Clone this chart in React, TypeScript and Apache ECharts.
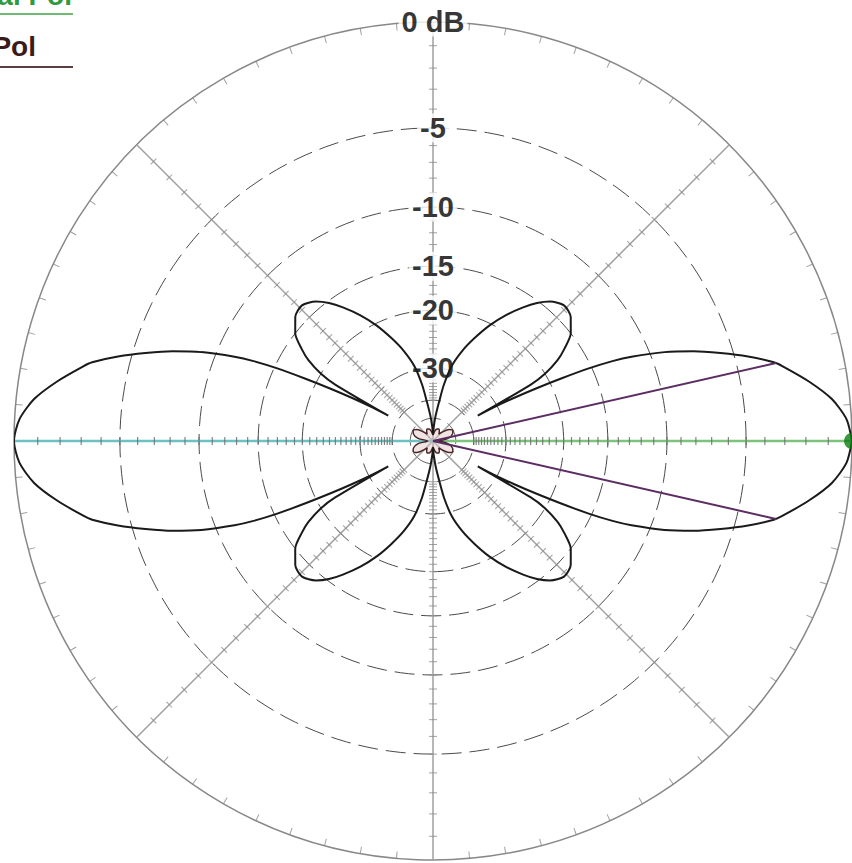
import React, { useEffect, useRef } from 'react';
import * as echarts from 'echarts';

// Main (black) pattern, one quadrant: angle from horizontal (deg) -> dB
const quadAngles = [0, 3, 6, 9, 12, 13, 15, 17, 19, 21, 23, 24, 25, 26, 27, 28, 29, 29.5, 30, 31, 33, 35, 38, 42, 46, 50, 53, 56, 60, 64, 68, 72, 76, 79, 81, 84, 87, 90];
const quadDb = [0, -0.2, -0.75, -1.65, -2.7, -3.1, -4.3, -5.7, -7.2, -9.0, -11.4, -13.0, -15.3, -18.5, -22, -26, -31, -36, -22.5, -20, -17.8, -16.5, -15, -14, -13.7, -14.3, -15.2, -16.4, -18.2, -20.3, -22.8, -25.5, -29, -34, -40, -48, -58, -70];

// Small (brown) pattern, one quadrant
const smallAngles = [0, 10, 20, 28, 36, 44, 50, 56, 64, 72, 80, 90];
const smallDb = [-75, -57, -51.5, -50.2, -52.5, -60, -66, -62, -59, -60, -64, -72];

// -3 dB beamwidth markers
const beamHalfAngle = 12.8;
const beamLevelDb = -3;

// Grid
const ringLevels = [-5, -10, -15, -20, -30, -40, -50];
const labelLevels = [0, -5, -10, -15, -20, -30];
const labelTexts = ['0 dB', '-5', '-10', '-15', '-20', '-30'];
const spokeAngles = [45, 90, 135, 225, 270, 315];
const tickDbs = Array.from({ length: 40 }, (_, i) => -(i + 1));
const rimTickAngles = Array.from({ length: 72 }, (_, i) => i * 5).filter((a) => a % 45 !== 0);

const arrl = (db: number) => Math.pow(0.89, -db / 2);

function mirror(angles: number[], dbs: number[]) {
  const out: number[][] = [];
  const n = angles.length;
  for (let i = 0; i < n; i++) out.push([arrl(dbs[i]), angles[i]]);
  for (let i = n - 2; i >= 0; i--) out.push([arrl(dbs[i]), 180 - angles[i]]);
  for (let i = 1; i < n; i++) out.push([arrl(dbs[i]), 180 + angles[i]]);
  for (let i = n - 2; i >= 0; i--) out.push([arrl(dbs[i]), 360 - angles[i]]);
  return out;
}

export default function App() {
  const ref = useRef<HTMLDivElement>(null);
  useEffect(() => {
    if (!ref.current) return;
    const chart = echarts.init(ref.current, undefined, { renderer: 'svg' });
    const series: any[] = [];

    // rings
    ringLevels.forEach((lv) => {
      const d: number[][] = [];
      for (let a = 0; a <= 360; a += 2) d.push([arrl(lv), a]);
      series.push({
        type: 'line', coordinateSystem: 'polar', data: d, symbol: 'none', silent: true, z: 1,
        lineStyle: { color: '#4a4a4a', width: 1, type: [20, 8] },
      });
    });
    // spokes
    spokeAngles.forEach((a) => {
      series.push({
        type: 'line', coordinateSystem: 'polar', data: [[0, a], [1, a]], symbol: 'none', silent: true, z: 1,
        lineStyle: { color: '#a0a0a0', width: 1.5 },
      });
    });
    series.push({
      type: 'line', coordinateSystem: 'polar', data: [[0, 0], [1, 0]], symbol: 'none', z: 2,
      lineStyle: { color: '#7cc47c', width: 2.5 },
    });
    series.push({
      type: 'line', coordinateSystem: 'polar', data: [[0, 180], [1, 180]], symbol: 'none', z: 2,
      lineStyle: { color: '#6cc2c2', width: 2.5 },
    });
    // spoke ticks
    const spokeTicks: any[] = [];
    spokeAngles.forEach((a) => tickDbs.forEach((db) => spokeTicks.push({ value: [arrl(db), a], symbolRotate: a })));
    series.push({
      type: 'scatter', coordinateSystem: 'polar', data: spokeTicks, symbol: 'rect', symbolSize: [1, 8], z: 2,
      itemStyle: { color: '#8a8a8a' }, silent: true,
    });
    const axisTicks: any[] = [];
    [0, 180].forEach((a) => tickDbs.forEach((db) => axisTicks.push({ value: [arrl(db), a], symbolRotate: a })));
    series.push({
      type: 'scatter', coordinateSystem: 'polar', data: axisTicks, symbol: 'rect', symbolSize: [1.2, 8], z: 3,
      itemStyle: { color: '#666' }, silent: true,
    });
    // rim ticks
    series.push({
      type: 'scatter', coordinateSystem: 'polar', symbol: 'rect', symbolSize: [1, 7], z: 2, silent: true,
      itemStyle: { color: '#888' },
      data: rimTickAngles.map((a) => ({ value: [1 - 3.5 / 419, a], symbolRotate: a - 90 })),
    });
    // labels
    series.push({
      type: 'scatter', coordinateSystem: 'polar', symbolSize: 1, z: 5, silent: true,
      itemStyle: { color: 'rgba(0,0,0,0)' },
      data: labelLevels.map((lv, i) => ({ value: [arrl(lv), 90], name: labelTexts[i] })),
      label: {
        show: true, position: 'inside', formatter: (p: any) => p.name,
        fontSize: 29, fontWeight: 'bold', fontFamily: '"Liberation Sans", Arial, sans-serif', color: '#000',
        backgroundColor: '#fff', padding: [0, 3],
      },
    });
    // small pattern
    series.push({
      type: 'line', coordinateSystem: 'polar', data: mirror(smallAngles, smallDb), symbol: 'none', smooth: 0.3, z: 6,
      lineStyle: { color: '#4a2424', width: 1.5 }, areaStyle: { color: 'rgba(220,190,190,0.6)' },
    });
    // main pattern
    series.push({
      type: 'line', coordinateSystem: 'polar', data: mirror(quadAngles, quadDb), symbol: 'none', smooth: 0.25, z: 7,
      lineStyle: { color: '#1a1a1a', width: 2 },
    });
    // beamwidth lines
    [beamHalfAngle, 360 - beamHalfAngle].forEach((a) => {
      series.push({
        type: 'line', coordinateSystem: 'polar', data: [[0, a], [arrl(beamLevelDb), a]], symbol: 'none', z: 8,
        lineStyle: { color: '#5c2d63', width: 2 },
      });
    });
    // marker dot
    series.push({
      type: 'scatter', coordinateSystem: 'polar', data: [[1, 0]], symbolSize: 16, z: 9,
      itemStyle: { color: '#0b7d12' },
    });

    chart.setOption({
      animation: false,
      backgroundColor: '#fff',
      polar: { center: [433, 441], radius: 419 },
      angleAxis: {
        type: 'value', min: 0, max: 360, startAngle: 0, clockwise: false,
        axisLine: { show: true, lineStyle: { color: '#888', width: 1.5 } },
        axisTick: { show: false }, axisLabel: { show: false }, splitLine: { show: false },
      },
      radiusAxis: {
        type: 'value', min: 0, max: 1,
        axisLine: { show: false }, axisTick: { show: false }, axisLabel: { show: false }, splitLine: { show: false },
      },
      series,
      graphic: [
        {
          type: 'text', x: 72, y: -5, z: 20,
          style: { text: 'Vertical Pol', align: 'right', verticalAlign: 'middle', textAlign: 'right', textVerticalAlign: 'middle', font: 'bold 28px "Liberation Sans", Arial, sans-serif', fill: '#2f9a3c' },
        },
        { type: 'line', z: 20, shape: { x1: 0, y1: 14, x2: 73, y2: 14 }, style: { stroke: '#72b872', lineWidth: 2 } },
        {
          type: 'text', x: 36, y: 46, z: 20,
          style: { text: 'Horiz Pol', align: 'right', verticalAlign: 'middle', textAlign: 'right', textVerticalAlign: 'middle', font: 'bold 28px "Liberation Sans", Arial, sans-serif', fill: '#3a1a1a' },
        },
        { type: 'line', z: 20, shape: { x1: 0, y1: 67, x2: 73, y2: 67 }, style: { stroke: '#5a4040', lineWidth: 2 } },
      ],
    });
    return () => chart.dispose();
  }, []);
  return <div ref={ref} style={{ position: 'fixed', left: 0, top: 0, width: 852, height: 863, background: '#fff' }} />;
}
